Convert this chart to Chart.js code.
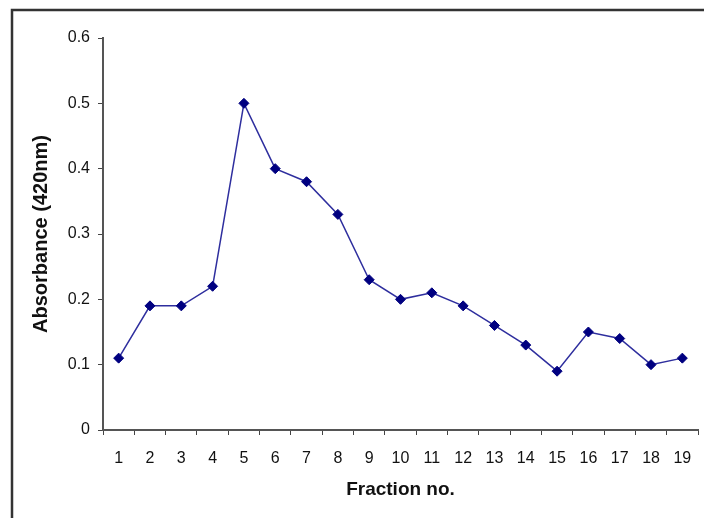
<!DOCTYPE html>
<html>
<head>
<meta charset="utf-8">
<script src="https://cdn.jsdelivr.net/npm/chart.js@4"></script>
<style>
  html, body { margin: 0; padding: 0; background: #fff; }
  #wrap { width: 704px; height: 518px; position: relative; }
</style>
</head>
<body>
<div id="wrap"><canvas id="myChart" width="704" height="518"></canvas></div>
<script>
const fractions = ['1','2','3','4','5','6','7','8','9','10','11','12','13','14','15','16','17','18','19'];
const absorbance = [0.11, 0.19, 0.19, 0.22, 0.50, 0.40, 0.38, 0.33, 0.23, 0.20, 0.21, 0.19, 0.16, 0.13, 0.09, 0.15, 0.14, 0.10, 0.11];

// outer frame, cut off at right and bottom like the picture
const framePlugin = {
  id: 'frame',
  beforeDraw(chart) {
    const c = chart.ctx;
    c.save();
    c.fillStyle = '#fff';
    c.fillRect(0, 0, chart.width, chart.height);
    c.strokeStyle = '#333';
    c.lineWidth = 2.5;
    c.beginPath();
    c.moveTo(12, 520);
    c.lineTo(12, 10);
    c.lineTo(706, 10);
    c.stroke();
    c.restore();
  }
};

const ctx = document.getElementById('myChart').getContext('2d');
new Chart(ctx, {
  type: 'line',
  data: {
    labels: fractions,
    datasets: [{
      data: absorbance,
      borderColor: '#2e2e9e',
      borderWidth: 1.5,
      pointStyle: 'rectRot',
      pointRadius: 5,
      pointBackgroundColor: '#000080',
      pointBorderColor: '#000080',
      pointBorderWidth: 1,
      tension: 0
    }]
  },
  plugins: [framePlugin],
  options: {
    responsive: false,
    animation: false,
    layout: { padding: { left: 0, right: 3, top: 38, bottom: 17 } },
    plugins: { legend: { display: false }, tooltip: { enabled: false } },
    scales: {
      x: {
        offset: true,
        grid: { offset: true, drawOnChartArea: false, drawTicks: true, tickLength: 5, color: '#444', lineWidth: 1 },
        border: { color: '#555', width: 2 },
        ticks: { color: '#111', font: { family: 'Liberation Sans', size: 16 }, padding: 14, maxRotation: 0, autoSkip: false },
        title: { display: true, text: 'Fraction no.', color: '#111', font: { family: 'Liberation Sans', size: 19, weight: 'bold' }, padding: { top: 6, bottom: 0 } },
        afterFit(scale) { scale.height = 71; scale.paddingLeft = 0; scale.paddingRight = 0; }
      },
      y: {
        min: 0,
        max: 0.6,
        ticks: { stepSize: 0.1, color: '#111', font: { family: 'Liberation Sans', size: 16 }, padding: 8, callback: v => v === 0 ? '0' : v.toFixed(1) },
        grid: { drawOnChartArea: false, drawTicks: true, tickLength: 5, color: '#444' },
        border: { color: '#555', width: 2 },
        title: { display: true, text: 'Absorbance (420nm)', color: '#111', font: { family: 'Liberation Sans', size: 20, weight: 'bold' }, padding: { top: 29, bottom: 0 } },
        afterFit(scale) { scale.width = 103; }
      }
    }
  }
});
</script>
</body>
</html>
